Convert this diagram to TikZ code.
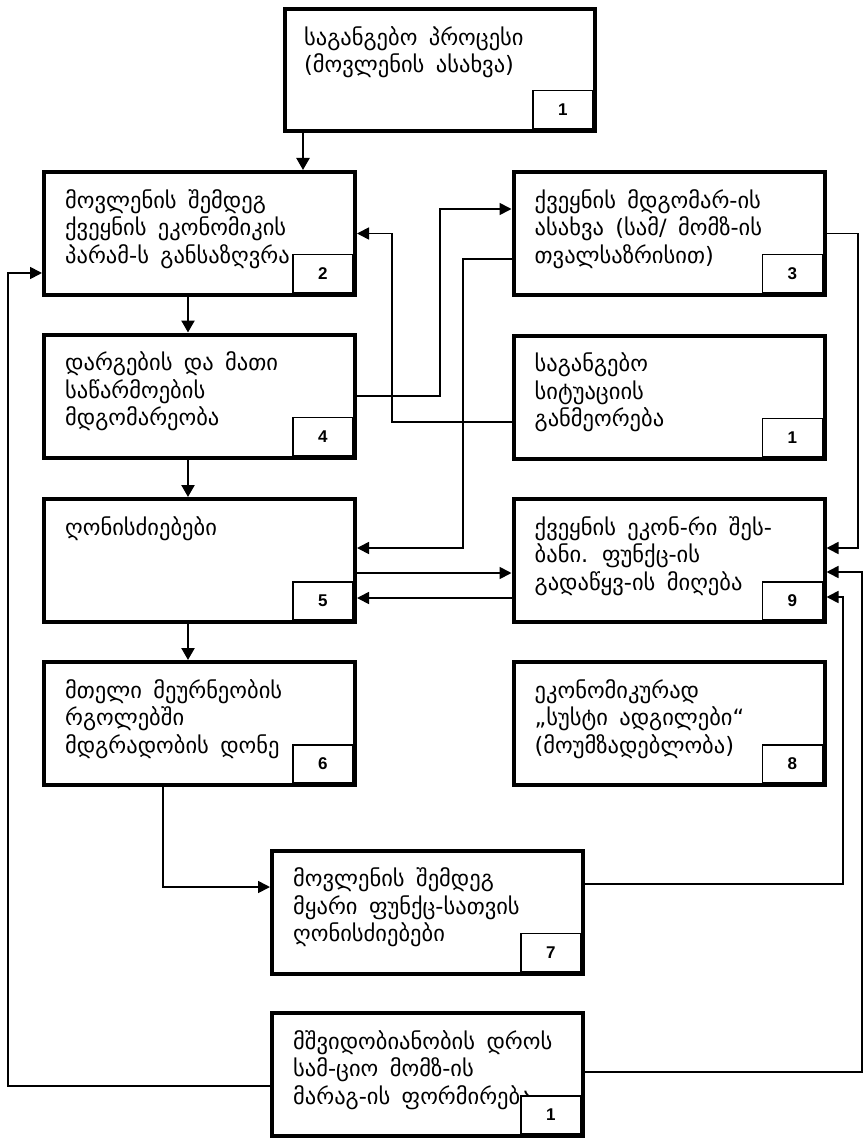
\documentclass[tikz,border=0pt]{standalone}
\usepackage{fontspec}
\setmainfont{DejaVu Sans}
\newfontfamily\geofont[WordSpace=1.6]{DejaVu Sans}
\newfontfamily\numfont{Liberation Sans}
\usetikzlibrary{arrows.meta,calc}
\begin{document}
\begin{tikzpicture}[x=1pt,y=-1pt,
  box/.style={draw, line width=4pt, minimum width=311pt, minimum height=123pt, inner sep=0pt},
  txt/.style={anchor=north west, inner sep=0pt, align=left, font=\geofont\fontsize{22.5}{27.5}\selectfont},
  numbox/.style={draw, line width=1.5pt, fill=white, minimum width=60pt, minimum height=38pt, anchor=south east, inner sep=0pt},
  numtxt/.style={inner sep=0pt, font=\numfont\bfseries\fontsize{17}{17}\selectfont},
  arr/.style={line width=1.7pt, -{Triangle[length=12pt,width=12pt]}},
  varr/.style={line width=2.3pt, -{Triangle[length=12pt,width=13pt]}},
]
\useasboundingbox (0,0) rectangle (863,1139);
\fill[white] (0,0) rectangle (863,1139);

% boxes
\node[box, minimum width=310pt, minimum height=122pt] (T) at (440,70) {};
\node[box] (b2) at (199.5,233.5) {};
\node[box] (b3) at (669,233.5) {};
\node[box] (b4) at (199.5,396) {};
\node[box] (b1m) at (669,397) {};
\node[box] (b5) at (199.5,560.5) {};
\node[box] (b9) at (669,560.5) {};
\node[box] (b6) at (199.5,723.5) {};
\node[box] (b8) at (669,723.5) {};
\node[box] (b7) at (427.5,912) {};
\node[box] (bb) at (427.5,1074.5) {};

% texts
\node[txt] (Tt) at ($(T.north west)+(21,19)$) {საგანგებო პროცესი\\(მოვლენის ასახვა)};
\node[txt] (b2t) at ($(b2.north west)+(23,19)$) {მოვლენის შემდეგ\\ქვეყნის ეკონომიკის\\პარამ-ს განსაზღვრა};
\node[txt] (b3t) at ($(b3.north west)+(23,19)$) {ქვეყნის მდგომარ-ის\\ასახვა (სამ/ მომზ-ის\\თვალსაზრისით)};
\node[txt] (b4t) at ($(b4.north west)+(23,19)$) {დარგების და მათი\\საწარმოების\\მდგომარეობა};
\node[txt] (b1mt) at ($(b1m.north west)+(23,19)$) {საგანგებო\\სიტუაციის\\განმეორება};
\node[txt] (b5t) at ($(b5.north west)+(23,19)$) {ღონისძიებები};
\node[txt] (b9t) at ($(b9.north west)+(23,19)$) {ქვეყნის ეკონ-რი შეს-\\ბანი. ფუნქც-ის\\გადაწყვ-ის მიღება};
\node[txt] (b6t) at ($(b6.north west)+(23,19)$) {მთელი მეურნეობის\\რგოლებში\\მდგრადობის დონე};
\node[txt] (b8t) at ($(b8.north west)+(23,19)$) {ეკონომიკურად\\„სუსტი ადგილები“\\(მოუმზადებლობა)};
\node[txt] (b7t) at ($(b7.north west)+(23,19)$) {მოვლენის შემდეგ\\მყარი ფუნქც-სათვის\\ღონისძიებები};
\node[txt] (bbt) at ($(bb.north west)+(23,19)$) {მშვიდობიანობის დროს\\სამ-ციო მომზ-ის\\მარაგ-ის ფორმირება};

% number boxes
\foreach \b/\n in {T/1,b2/2,b3/3,b4/4,b1m/1,b5/5,b9/9,b6/6,b8/8,b7/7,bb/1}{
  \node[numbox] (\b n) at ($(\b.south east)+(-3.5,-3.5)$) {};
  \node[numtxt] (\b nt) at (\b n.center) {\n};
}

% bend coordinates
\coordinate (x303) at (303,0);
\coordinate (x188) at (188,0);
\coordinate (k1) at (440,209);
\coordinate (k2) at (392,422);
\coordinate (k3) at (463,259);
\coordinate (k3b) at (463,548);
\coordinate (y573) at (0,573);
\coordinate (y598) at (0,598);
\coordinate (k10) at (858,233.5);
\coordinate (k10b) at (858,548);
\coordinate (k11) at (843,884);
\coordinate (k11b) at (843,597);
\coordinate (k12) at (862,1072);
\coordinate (k12b) at (862,572);
\coordinate (k13) at (163,887);
\coordinate (k14) at (8,1086);
\coordinate (k14b) at (8,273);

% vertical flow arrows
\draw[varr] (T.south -| x303) -- (b2.north -| x303);
\draw[varr] (b2.south -| x188) -- (b4.north -| x188);
\draw[varr] (b4.south -| x188) -- (b5.north -| x188);
\draw[varr] (b5.south -| x188) -- (b6.north -| x188);

% crossing connectors
\draw[arr] (b4.east) -| (k1) -- (b3.west |- k1);
\draw[arr] (b1m.west |- k2) -- (k2) |- (b2.east);
\draw[arr] (b3.west |- k3) -- (k3) -- (k3b) -- (b5.east |- k3b);
\draw[arr] (b5.east |- y573) -- (b9.west |- y573);
\draw[arr] (b9.west |- y598) -- (b5.east |- y598);

% right side connectors into box 9
\draw[arr] (b3.east) -- (k10) -- (k10b) -- (b9.east |- k10b);
\draw[arr] (b7.east |- k11) -- (k11) -- (k11b) -- (b9.east |- k11b);
\draw[arr] (bb.east |- k12) -- (k12) -- (k12b) -- (b9.east |- k12b);

% left side connectors
\draw[arr] (b6.south -| k13) -- (k13) -- (b7.west |- k13);
\draw[arr] (bb.west |- k14) -- (k14) -- (k14b) -- (b2.west |- k14b);
\end{tikzpicture}
\end{document}
